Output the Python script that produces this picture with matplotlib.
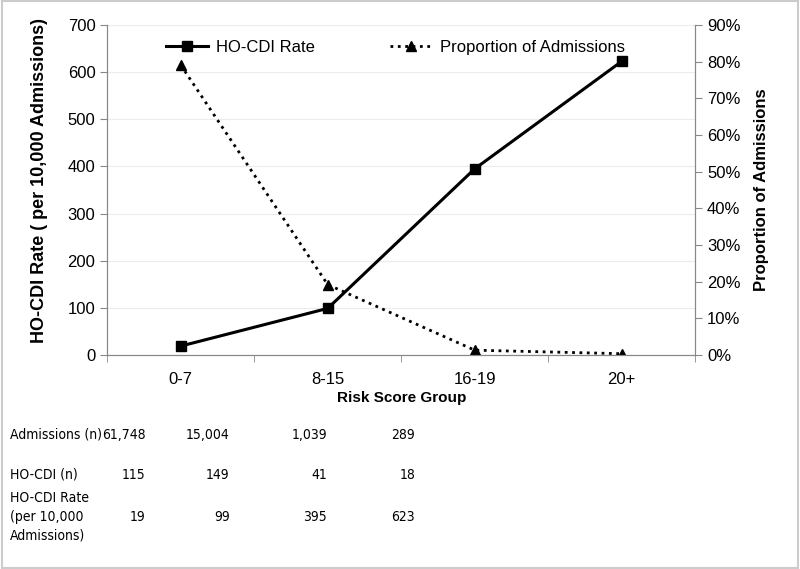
import matplotlib.pyplot as plt
from matplotlib.ticker import PercentFormatter, MultipleLocator
from matplotlib.font_manager import FontProperties

plt.rcParams['font.family'] = ['Liberation Sans', 'DejaVu Sans']

groups = ['0-7', '8-15', '16-19', '20+']
admissions = [61748, 15004, 1039, 289]
hocdi_n = [115, 149, 41, 18]
rate = [19, 99, 395, 623]
total = sum(admissions)
proportion = [a / total * 100 for a in admissions]

# narrow font for the table under the chart
narrow = FontProperties(family='DejaVu Sans', stretch='condensed', size=10)

fig = plt.figure(figsize=(8, 5.69), dpi=100)
ax = fig.add_axes([0.134, 0.376, 0.735, 0.580])
ax2 = ax.twinx()

x = range(len(groups))
l1, = ax.plot(x, rate, color='black', lw=2.2, marker='s', ms=7, label='HO-CDI Rate')
l2, = ax2.plot(x, proportion, color='black', lw=2, ls=':', marker='^', ms=7,
               label='Proportion of Admissions')

ax.set_xlim(-0.5, 3.5)
ax.set_ylim(0, 700)
ax.yaxis.set_major_locator(MultipleLocator(100))
ax2.set_ylim(0, 90)
ax2.yaxis.set_major_locator(MultipleLocator(10))
ax2.yaxis.set_major_formatter(PercentFormatter(decimals=0))

ax.set_xticks(list(x))
ax.set_xticklabels(groups)
ax.set_xticks([-0.5, 0.5, 1.5, 2.5, 3.5], minor=True)
ax.tick_params(axis='x', which='major', length=0, pad=12, labelsize=12)
ax.tick_params(axis='x', which='minor', length=5, color='#888888')
ax.tick_params(axis='y', length=5, color='#888888', labelsize=12)
ax2.tick_params(axis='y', length=5, color='#888888', labelsize=12)
ax.grid(axis='y', color='#ececec', lw=0.8)
ax.set_axisbelow(True)

for a in (ax, ax2):
    a.spines['top'].set_visible(False)
    a.spines['left'].set_color('#888888')
    a.spines['right'].set_color('#888888')
    a.spines['bottom'].set_color('#888888')

ax.set_ylabel('HO-CDI Rate ( per 10,000 Admissions)', fontsize=13, fontweight='bold')
ax.yaxis.set_label_coords(-0.101, 0.53)
ax2.set_ylabel('Proportion of Admissions', fontsize=12, fontweight='bold', labelpad=10)
ax.set_xlabel('Risk Score Group', fontsize=11, fontweight='bold', labelpad=3)

ax.legend(handles=[l1, l2], loc='upper left', bbox_to_anchor=(0.075, 1.0), ncol=2,
          frameon=False, fontsize=12, handlelength=2.5, handletextpad=0.5,
          columnspacing=4.5)

# table under the chart
num_x = [0.182, 0.287, 0.409, 0.519]
def row(y, label, vals):
    fig.text(0.013, y, label, va='center', ha='left', fontproperties=narrow)
    for xi, v in zip(num_x, vals):
        fig.text(xi, y, v, va='center', ha='right', fontproperties=narrow)

row(1 - 435 / 569, 'Admissions (n)', [f'{v:,}' for v in admissions])
row(1 - 475 / 569, 'HO-CDI (n)', [str(v) for v in hocdi_n])
fig.text(0.013, 1 - 517 / 569, 'HO-CDI Rate\n(per 10,000\nAdmissions)',
         va='center', ha='left', linespacing=1.45, fontproperties=narrow)
for xi, v in zip(num_x, rate):
    fig.text(xi, 1 - 517 / 569, str(v), va='center', ha='right', fontproperties=narrow)

fig.patches.append(plt.Rectangle((0.002, 0.002), 0.996, 0.996, transform=fig.transFigure,
                                 fill=False, edgecolor='#cccccc', lw=1.5))

fig.savefig('out.png', dpi=100)
